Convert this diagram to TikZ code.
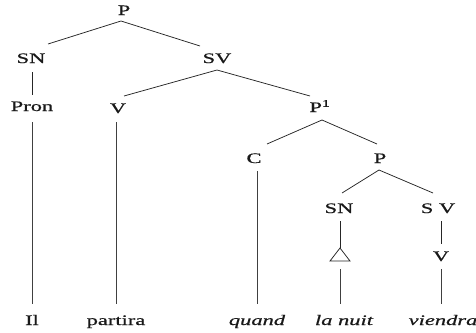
\documentclass[tikz,border=0pt]{standalone}
\usepackage{fontspec}
\newfontfamily\treefont[FakeBold=0.6]{Liberation Serif}
\usetikzlibrary{calc}
% labels are set wide, as in the printed tree
\newcommand{\widelab}[1]{\scalebox{1.55}[1]{#1}}
\begin{document}
\begin{tikzpicture}[x=1pt,y=-1pt,
  lab/.style={anchor=base,inner sep=0pt,text=black!90,font=\treefont\fontsize{14.5}{16}\selectfont},
  word/.style={lab},
  br/.style={line width=0.75pt,draw=black!85},
  stem/.style={line width=1pt,draw=black!75}]
\useasboundingbox (0,0) rectangle (476,332);
% category labels
\node[lab] (P)   at (124,15)  {\widelab{P}};
\node[lab] (SN)  at (31,63)   {\widelab{SN}};
\node[lab] (SV)  at (217,63)  {\widelab{SV}};
\node[lab] (Pron) at (32,111) {\widelab{Pron}};
\node[lab] (V)   at (118,113) {\widelab{V}};
\node[lab] (Pu)  at (320,112) {\widelab{P\textsuperscript{1}}};
\node[lab] (C)   at (254,163) {\widelab{C}};
\node[lab] (Pb)  at (380,163) {\widelab{P}};
\node[lab] (SNb) at (339,213) {\widelab{SN}};
\node[lab] (SVb) at (438,213) {\widelab{S V}};
\node[lab] (Vb)  at (441,261) {\widelab{V}};
% terminal words
\node[word] (il)      at (32,325)  {\widelab{Il}};
\node[word] (partira) at (116,325) {\widelab{partira}};
\node[word] (quand)   at (257,325) {\widelab{\itshape quand}};
\node[word] (nuit)    at (344,325) {\widelab{\itshape la nuit}};
\node[word] (viendra) at (443,325) {\widelab{\itshape viendra}};
% triangle for the unanalysed phrase
\coordinate (tri) at (340,255);
\draw[br] ($(tri)+(0,-7)$) -- ($(tri)+(-10,6)$) -- ($(tri)+(10,6)$) -- cycle;
% branches
\draw[br] ($(P.base)+(-3,6)$) -- ($(SN.base)+(17,-19)$);
\draw[br] ($(P.base)+(-3,6)$) -- ($(SV.base)+(-17,-17)$);
\draw[br] ($(SN.base)+(1,9)$) -- ($(Pron.base)+(0,-16)$);
\draw[br] ($(SV.base)+(0,7)$) -- ($(V.base)+(6,-17)$);
\draw[br] ($(SV.base)+(0,7)$) -- ($(Pu.base)+(-10,-16)$);
\draw[br] ($(Pu.base)+(2,8)$) -- ($(C.base)+(13,-19)$);
\draw[br] ($(Pu.base)+(2,8)$) -- ($(Pb.base)+(-3,-19)$);
\draw[br] ($(Pb.base)+(-1,7)$) -- ($(SNb.base)+(3,-20)$);
\draw[br] ($(Pb.base)+(-1,7)$) -- ($(SVb.base)+(-5,-20)$);
\draw[br] ($(SNb.base)+(1,8)$) -- ($(tri)+(0,-7)$);
\draw[br] ($(SVb.base)+(3,8)$) -- ($(Vb.base)+(0,-17)$);
% stems down to the words
\draw[stem] ($(Pron.base)+(0,11)$) -- ($(il.base)+(0,-21)$);
\draw[stem] ($(V.base)+(-2,9)$) -- ($(partira.base)+(0,-21)$);
\draw[stem] ($(C.base)+(3,8)$) -- ($(quand.base)+(0,-21)$);
\draw[stem] ($(tri)+(0,14)$) -- ($(nuit.base)+(-4,-21)$);
\draw[stem] ($(Vb.base)+(0,8)$) -- ($(viendra.base)+(-2,-21)$);
\end{tikzpicture}
\end{document}
